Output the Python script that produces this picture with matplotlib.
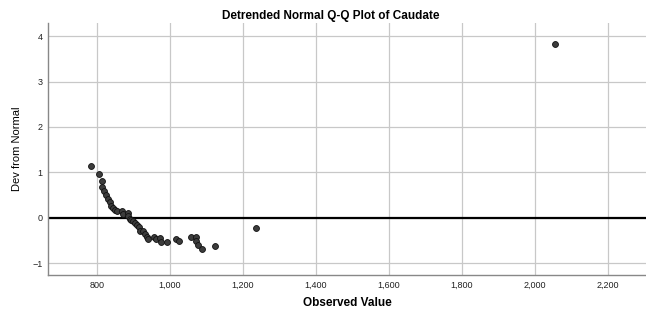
import matplotlib
matplotlib.use('Agg')
from matplotlib import pyplot as plt
from matplotlib.ticker import FuncFormatter

observed = [784, 806, 813, 813, 820, 826, 831, 836, 840, 845, 850, 856, 870, 872,
            886, 886, 890, 894, 898, 904, 910, 916, 918, 927, 931, 938, 940, 957,
            961, 973, 977, 991, 1016, 1025, 1057, 1071, 1073, 1076, 1087, 1125,
            1236, 2056]
deviation = [1.15, 0.97, 0.81, 0.67, 0.60, 0.51, 0.41, 0.34, 0.26, 0.21, 0.18, 0.15,
             0.14, 0.08, 0.10, 0.03, -0.03, -0.05, -0.08, -0.12, -0.16, -0.21, -0.29,
             -0.29, -0.35, -0.42, -0.47, -0.43, -0.47, -0.45, -0.54, -0.54, -0.47,
             -0.51, -0.42, -0.43, -0.52, -0.60, -0.68, -0.62, -0.23, 3.82]

x_ticks = [800, 1000, 1200, 1400, 1600, 1800, 2000, 2200]
y_ticks = [-1, 0, 1, 2, 3, 4]

plt.rcParams['font.family'] = ['Liberation Sans', 'DejaVu Sans']

fig = plt.figure(figsize=(6.46, 3.10), dpi=100)
ax = fig.add_axes([48 / 646, 35 / 310, 598 / 646, 252 / 310])

ax.scatter(observed, deviation, s=18, facecolor='#3c3c3c', edgecolor='#111111',
           linewidth=0.6, zorder=3)
ax.axhline(0, color='black', linewidth=1.6, zorder=2)

ax.set_xlim(666, 2305)
ax.set_ylim(-1.26, 4.29)
ax.set_xticks(x_ticks)
ax.set_yticks(y_ticks)
ax.xaxis.set_major_formatter(FuncFormatter(lambda v, p: f'{int(v):,}'))
ax.grid(True, color='#c8c8c8', linewidth=0.9)
ax.set_axisbelow(True)
ax.tick_params(axis='x', length=0, labelsize=6.5, pad=4, labelcolor='#222222')
ax.tick_params(axis='y', length=0, labelsize=6.5, pad=4, labelcolor='#222222')

for side in ('top', 'right'):
    ax.spines[side].set_visible(False)
for side in ('left', 'bottom'):
    ax.spines[side].set_color('#888888')
    ax.spines[side].set_linewidth(1.0)

ax.set_xlabel('Observed Value', fontsize=8.5, fontweight='bold', labelpad=5)
ax.set_ylabel('Dev from Normal', fontsize=8, labelpad=7)
fig.text(331 / 646, 1 - 16 / 310, 'Detrended Normal Q-Q Plot of Caudate',
         ha='center', va='center', fontsize=8.5, fontweight='bold')

fig.savefig('out.png', dpi=100)
